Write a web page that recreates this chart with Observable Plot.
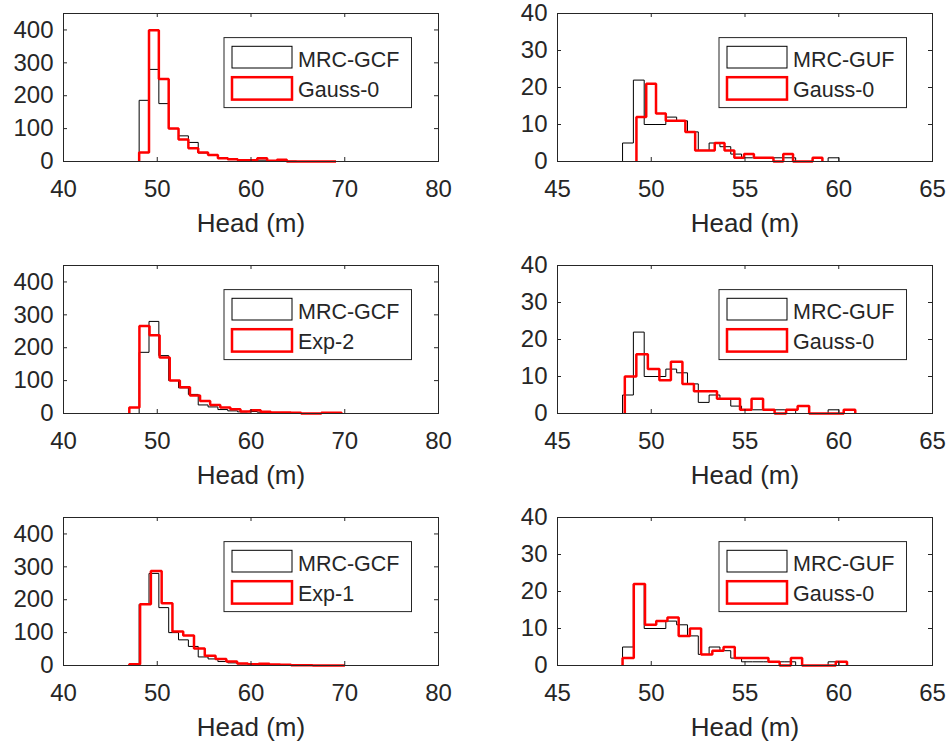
<!DOCTYPE html>
<html><head><meta charset="utf-8">
<script src="https://cdn.jsdelivr.net/npm/d3@7"></script>
<script src="https://cdn.jsdelivr.net/npm/@observablehq/plot@0.6"></script>
<style>
body{margin:0;background:#fff;}
#fig{position:relative;width:947px;height:745px;overflow:hidden;background:#fff;}
.panel{position:absolute;}
</style></head><body><div id="fig"></div>
<script>
// ---------- data ----------
const xLabel = "Head (m)";
const leftXTicks = [40, 50, 60, 70, 80];
const leftYTicks = [0, 100, 200, 300, 400];
const rightXTicks = [45, 50, 55, 60, 65];
const rightYTicks = [0, 10, 20, 30, 40];

// MRC-GCF reference histogram (left column)
const gcfStart = 48.07, gcfWidth = 1.05;
const gcfCounts = [186, 280, 176, 100, 78, 58, 26, 20, 12, 8, 5, 6, 4, 3, 2, 1];
// Gauss-0 (top left)
const gaussLStart = 48.07, gaussLWidth = 1.05;
const gaussLCounts = [27, 399, 251, 100, 67, 40, 27, 20, 10, 7, 4, 4, 10, 2, 5, 0, 0, 0, 0, 0];
// Exp-2 (middle left)
const exp2Start = 47.02, exp2Width = 1.078;
const exp2Counts = [18, 266, 238, 170, 100, 80, 55, 38, 26, 18, 13, 6, 10, 5, 3, 3, 2, 0, 0, 2, 2];
// Exp-1 (bottom left)
const exp1Start = 47.02, exp1Width = 1.15;
const exp1Counts = [4, 186, 287, 189, 103, 91, 52, 30, 20, 12, 6, 4, 5, 3, 2, 1, 1, 0, 0, 0];

// MRC-GUF reference histogram (right column)
const gufStart = 48.47, gufWidth = 0.577;
const gufCounts = [5, 22, 10, 10, 12, 11, 8, 3, 5, 4, 2, 1, 1, 1, 1, 1, 0, 0, 0, 1];
// Gauss-0 (top right)
const gaussR1Start = 49.21, gaussR1Width = 0.522;
const gaussR1Counts = [12, 21, 13, 11, 11, 8, 3, 3, 5, 3, 1, 2, 1, 1, 0, 2, 0, 0, 1];
// Gauss-0 (middle right)
const gaussR2Start = 48.59, gaussR2Width = 0.6145;
const gaussR2Counts = [10, 16, 12, 9, 14, 8, 6, 6, 4, 4, 1, 4, 1, 0, 1, 2, 0, 0, 0, 1];
// Gauss-0 (bottom right)
const gaussR3Start = 48.47, gaussR3Width = 0.5985;
const gaussR3Counts = [2, 22, 11, 12, 13, 8, 10, 3, 4, 5, 2, 2, 2, 1, 0, 2, 0, 0, 0, 1];

// ---------- helpers ----------
function steps(start, width, counts) {
  const pts = [{x: start, y: 0}];
  counts.forEach((c, i) => {
    pts.push({x: start + i * width, y: c});
    pts.push({x: start + (i + 1) * width, y: c});
  });
  pts.push({x: start + counts.length * width, y: 0});
  return pts;
}

const FONT = "'Liberation Sans', Arial, Helvetica, sans-serif";
const AX = "#262626";

function panel(o) {
  const mL = 63, mT = 13, mB = 82, plotW = 375, plotH = 148;
  const svg = Plot.plot({
    width: mL + plotW + o.marginRight,
    height: mT + plotH + mB,
    marginLeft: mL, marginRight: o.marginRight, marginTop: mT, marginBottom: mB,
    style: {fontFamily: FONT, color: AX, background: "white", overflow: "visible"},
    x: {domain: o.xDomain},
    y: {domain: o.yDomain},
    marks: [
      Plot.line(steps(o.ref[0], o.ref[1], o.ref[2]), {x: "x", y: "y", stroke: "#000", strokeWidth: 1, strokeLinejoin: "miter", strokeLinecap: "butt"}),
      Plot.line(steps(o.mod[0], o.mod[1], o.mod[2]), {x: "x", y: "y", stroke: "#ff0000", strokeWidth: 2.5, strokeLinejoin: "miter", strokeLinecap: "butt"}),
      Plot.frame({stroke: AX}),
      Plot.ruleX(o.xTicks, {insetTop: plotH - 4, stroke: AX}),
      Plot.ruleX(o.xTicks, {insetBottom: plotH - 4, stroke: AX}),
      Plot.ruleY(o.yTicks, {insetRight: plotW - 4, stroke: AX}),
      Plot.ruleY(o.yTicks, {insetLeft: plotW - 4, stroke: AX}),
      Plot.axisX({ticks: o.xTicks, tickSize: 0, tickPadding: 18, fontSize: 24, tickFormat: d => String(d), label: null}),
      Plot.axisY({ticks: o.yTicks, tickSize: 0, tickPadding: 10, fontSize: 24, tickFormat: d => String(d), label: null}),
      Plot.text([xLabel], {frameAnchor: "bottom", lineAnchor: "middle", dy: 62, fontSize: 26, fill: AX})
    ]
  });
  // legend box
  const g = d3.select(svg).append("g")
    .attr("transform", `translate(${mL + o.legX},${mT + 24.6})`)
    .attr("font-family", FONT)
    .attr("text-anchor", "start");
  g.append("rect").attr("width", 187.5).attr("height", 70)
    .attr("fill", "white").attr("stroke", AX).attr("stroke-width", 1);
  g.append("rect").attr("x", 8).attr("y", 8.7).attr("width", 60).attr("height", 21.7)
    .attr("fill", "none").attr("stroke", "#000").attr("stroke-width", 1);
  g.append("rect").attr("x", 8).attr("y", 39.6).attr("width", 60).attr("height", 22.4)
    .attr("fill", "none").attr("stroke", "#ff0000").attr("stroke-width", 2.5);
  g.append("text").attr("x", 74).attr("y", 22).attr("dy", "0.36em").attr("text-anchor", "start")
    .attr("font-size", 21.5).attr("fill", AX).text(o.refLabel);
  g.append("text").attr("x", 74).attr("y", 52).attr("dy", "0.36em").attr("text-anchor", "start")
    .attr("font-size", 21.5).attr("fill", AX).text(o.modLabel);

  const div = document.createElement("div");
  div.className = "panel";
  div.style.left = o.left + "px";
  div.style.top = o.top + "px";
  div.appendChild(svg);
  document.getElementById("fig").appendChild(div);
}

const rowsTop = [0, 252, 504];
const leftMods = [
  [[gaussLStart, gaussLWidth, gaussLCounts], "Gauss-0"],
  [[exp2Start, exp2Width, exp2Counts], "Exp-2"],
  [[exp1Start, exp1Width, exp1Counts], "Exp-1"]
];
const rightMods = [
  [[gaussR1Start, gaussR1Width, gaussR1Counts], "Gauss-0"],
  [[gaussR2Start, gaussR2Width, gaussR2Counts], "Gauss-0"],
  [[gaussR3Start, gaussR3Width, gaussR3Counts], "Gauss-0"]
];

rowsTop.forEach((top, r) => {
  panel({
    left: 0, top, marginRight: 20,
    xDomain: [40, 80], yDomain: [0, 450],
    xTicks: leftXTicks, yTicks: leftYTicks,
    ref: [gcfStart, gcfWidth, gcfCounts], mod: leftMods[r][0],
    refLabel: "MRC-GCF", modLabel: leftMods[r][1], legX: 161
  });
  panel({
    left: 494, top, marginRight: 15,
    xDomain: [45, 65], yDomain: [0, 40],
    xTicks: rightXTicks, yTicks: rightYTicks,
    ref: [gufStart, gufWidth, gufCounts], mod: rightMods[r][0],
    refLabel: "MRC-GUF", modLabel: rightMods[r][1], legX: 162
  });
});
</script>
</body></html>
